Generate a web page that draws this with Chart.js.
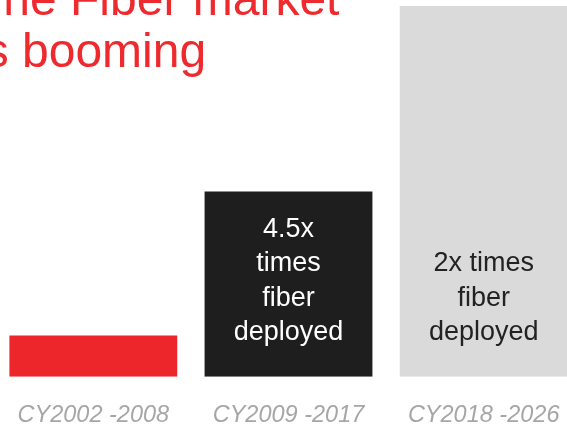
<!DOCTYPE html>
<html>
<head>
<meta charset="utf-8">
<script src="https://cdn.jsdelivr.net/npm/chart.js@4"></script>
<style>
    html, body { margin: 0; padding: 0; background: #ffffff; overflow: hidden; }
    body { width: 567px; height: 426px; position: relative; }
    #chartBox { position: absolute; left: -7px; top: 0; width: 591px; height: 455px; }
    #title {
        position: absolute; left: -26px; top: -27px;
        font-family: "Liberation Sans", Arial, sans-serif;
        font-size: 48px; line-height: 52px; color: #ee2a2e;
        white-space: nowrap;
    }
</style>
</head>
<body>
<div id="chartBox"><canvas id="fiberChart"></canvas></div>
<div id="title">The Fiber market<br>is booming</div>
<script>
const periods = ["CY2002 -2008", "CY2009 -2017", "CY2018 -2026"];
const fiberDeployed = [1, 4.5, 9];
const barColors = ["#ec262b", "#1e1e1e", "#dadada"];
const barNotes = [[], ["4.5x", "times", "fiber", "deployed"], ["2x times", "fiber", "deployed"]];
const noteColors = ["#ffffff", "#ffffff", "#222222"];

const barNotesPlugin = {
    id: "barNotes",
    afterDatasetsDraw(chart) {
        let ctx = chart.ctx;
        let meta = chart.getDatasetMeta(0);
        ctx.save();
        ctx.font = "27px 'Liberation Sans', Arial, sans-serif";
        ctx.textAlign = "center";
        ctx.textBaseline = "middle";
        meta.data.forEach(function (bar, i) {
            let lines = barNotes[i];
            ctx.fillStyle = noteColors[i];
            lines.forEach(function (line, j) {
                let y = bar.base - 44 - (lines.length - 1 - j) * 34.5;
                ctx.fillText(line, bar.x, y);
            });
        });
        ctx.restore();
    }
};

const config = {
    type: "bar",
    data: {
        labels: periods,
        datasets: [
            {
                data: fiberDeployed,
                backgroundColor: barColors,
                borderWidth: 0,
                categoryPercentage: 1,
                barPercentage: 0.86,
            },
        ],
    },
    options: {
        responsive: true,
        maintainAspectRatio: false,
        animation: false,
        layout: { padding: { top: 6, left: 0, right: 0, bottom: 0 } },
        plugins: {
            legend: { display: false },
            tooltip: { enabled: false },
        },
        scales: {
            x: {
                grid: { display: false, drawTicks: false },
                border: { display: false },
                ticks: {
                    padding: 25,
                    color: "#a6a6a6",
                    font: { family: "'Liberation Sans', Arial, sans-serif", size: 23.5, style: "italic" },
                    maxRotation: 0,
                    autoSkip: false,
                },
            },
            y: {
                display: false,
                min: 0,
                max: 9,
            },
        },
    },
    plugins: [barNotesPlugin],
};

new Chart(document.getElementById("fiberChart").getContext("2d"), config);
</script>
</body>
</html>
